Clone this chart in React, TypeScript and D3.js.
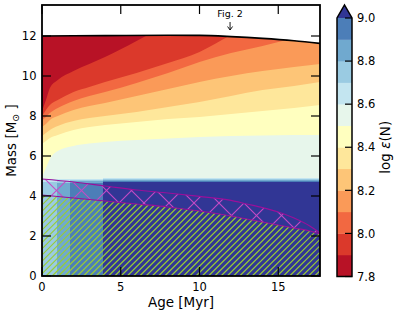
import React, { useRef, useEffect } from 'react';
import * as d3 from 'd3';

// contour levels of log eps(N) and ticks
const LEVELS = [7.8, 7.9, 8.0, 8.1, 8.2, 8.3, 8.4, 8.5, 8.6, 8.7, 8.8, 8.9, 9.0];
const CBAR_TICKS = [7.8, 8.0, 8.2, 8.4, 8.6, 8.8, 9.0];
const X_TICKS = [0, 5, 10, 15];
const Y_TICKS = [0, 2, 4, 6, 8, 10, 12];
const AGE_MAX = 17.65;
const MASS_MAX = 13.55;

// upper (high mass) field: mass where each level is crossed, per age
const AGES = [0, 0.25, 0.5, 1, 2, 3, 4, 6, 8, 10, 12, 14, 16, 17.65];
const BOUNDARY_LEVELS = [7.9, 8.0, 8.1, 8.2, 8.3, 8.4, 8.5];
const MASS_79 = [8.25, 8.8, 9.4, 9.8, 10.25, 10.6, 10.95, 11.75, 12.6, 13.4, 14.0, 14.5, 15.0, 15.3];
const MASS_80 = [8.0, 8.3, 8.55, 8.8, 9.2, 9.45, 9.7, 10.15, 10.65, 11.2, 12.05, 12.8, 13.4, 13.8];
const MASS_81 = [7.8, 7.95, 8.15, 8.4, 8.75, 9.0, 9.2, 9.65, 10.15, 10.7, 11.15, 11.5, 11.9, 12.2];
const MASS_82 = [7.45, 7.6, 7.8, 8.0, 8.3, 8.5, 8.65, 9.0, 9.35, 9.7, 10.0, 10.25, 10.45, 10.6];
const MASS_83 = [7.0, 7.15, 7.3, 7.5, 7.75, 7.9, 8.0, 8.2, 8.45, 8.7, 9.0, 9.3, 9.5, 9.7];
const MASS_84 = [6.6, 6.75, 6.9, 7.05, 7.3, 7.45, 7.55, 7.7, 7.85, 7.95, 8.1, 8.25, 8.4, 8.55];
const MASS_85 = [4.95, 5.4, 5.85, 6.25, 6.5, 6.62, 6.7, 6.8, 6.88, 6.95, 7.0, 7.03, 7.05, 7.05];
const FIELD_FLOOR = 4.9;
const FLOOR_LOGN = 8.55;

// low mass field: value per age bin, ramping up below the floor
const LOW_EDGES = [0, 0.93, 1.78, 3.85, AGE_MAX];
const LOW_LOGN = [8.75, 8.85, 8.95, 9.2];
const RAMP_BOTTOM = 4.63;

// upper limit of the grid
const TOP_AGES = [0, 4, 8, 10, 12, 14, 16, 17.65];
const TOP_MASS = [12.0, 12.02, 12.04, 12.03, 11.97, 11.88, 11.76, 11.63];

// hatched regions
const BAND_AGES = [0, 2, 4, 6, 8, 10, 12, 13, 14, 15, 16, 17, 17.65];
const BAND_UPPER = [4.85, 4.7, 4.5, 4.3, 4.15, 3.98, 3.78, 3.6, 3.42, 3.2, 2.9, 2.5, 2.15];
const BAND_LOWER = [4.05, 3.9, 3.75, 3.6, 3.45, 3.25, 3.0, 2.85, 2.7, 2.55, 2.4, 2.25, 2.1];

const ANNOT_AGE = 11.94;
const ANNOT_TIP = 12.3;
const ANNOT_TAIL = 12.7;

const RDYLBU = ['#a50026', '#d73027', '#f46d43', '#fdae61', '#fee090', '#ffffbf',
    '#e0f3f8', '#abd9e9', '#74add1', '#4575b4', '#313695'];

const FONT = 'DejaVu Sans, sans-serif';

export default function App() {
    const svgRef = useRef<SVGSVGElement | null>(null);

    useEffect(() => {
        const width = 399;
        const height = 315;
        const plot = { left: 42, right: 320, top: 5, bottom: 276 };

        d3.select(svgRef.current).selectAll('*').remove();
        const svg = d3.select(svgRef.current).attr('width', width).attr('height', height);

        const cmap = d3.scaleLinear<string>()
            .domain(d3.range(11).map((i) => i / 10))
            .range(RDYLBU)
            .interpolate(d3.interpolateRgb);
        const nBins = LEVELS.length - 1;
        const binColor = (i: number) => (i >= nBins ? cmap(1) : cmap((i + 0.5) / (nBins + 1)));
        const colorOf = (v: number) => binColor(d3.bisectRight(LEVELS, v) - 1);

        const x = d3.scaleLinear().domain([0, AGE_MAX]).range([plot.left, plot.right]);
        const y = d3.scaleLinear().domain([0, MASS_MAX]).range([plot.bottom, plot.top]);

        const greenArea = d3.area<number>()
            .x((_, i) => x(BAND_AGES[i]))
            .y0(y(0))
            .y1((d) => y(d))
            .curve(d3.curveMonotoneX)(BAND_LOWER)!;
        const bandArea = d3.area<number>()
            .x((_, i) => x(BAND_AGES[i]))
            .y0((_, i) => y(BAND_LOWER[i]))
            .y1((d) => y(d))
            .curve(d3.curveMonotoneX)(BAND_UPPER)!;

        const defs = svg.append('defs');
        defs.append('clipPath').attr('id', 'field')
            .append('path')
            .attr('d', d3.area<number>()
                .x((_, i) => x(TOP_AGES[i]))
                .y0(y(0))
                .y1((d) => y(d))
                .curve(d3.curveMonotoneX)(TOP_MASS)!);
        defs.append('clipPath').attr('id', 'greenClip').append('path').attr('d', greenArea);
        defs.append('clipPath').attr('id', 'bandClip').append('path').attr('d', bandArea);

        // filled contours
        const field = svg.append('g').attr('clip-path', 'url(#field)');
        field.append('rect')
            .attr('x', x(0)).attr('y', y(MASS_MAX))
            .attr('width', x(AGE_MAX) - x(0)).attr('height', y(0) - y(MASS_MAX))
            .attr('fill', binColor(0));

        const boundaries = [MASS_79, MASS_80, MASS_81, MASS_82, MASS_83, MASS_84, MASS_85];
        boundaries.forEach((masses, k) => {
            const idx = LEVELS.indexOf(BOUNDARY_LEVELS[k]);
            field.append('path')
                .attr('d', d3.area<number>()
                    .x((_, i) => x(AGES[i]))
                    .y0(y(0))
                    .y1((d) => y(d))
                    .curve(d3.curveMonotoneX)(masses)!)
                .attr('fill', binColor(idx));
        });

        LOW_LOGN.forEach((v, c) => {
            const x0 = x(LOW_EDGES[c]);
            const x1 = x(LOW_EDGES[c + 1]);
            const ramp = d3.scaleLinear().domain([FLOOR_LOGN, v]).range([FIELD_FLOOR, RAMP_BOTTOM]);
            const steps = [FLOOR_LOGN, ...LEVELS.filter((l) => l > FLOOR_LOGN && l < v)];
            steps.forEach((l) => {
                const top = l === FLOOR_LOGN ? FIELD_FLOOR : ramp(l);
                field.append('rect')
                    .attr('x', x0).attr('width', x1 - x0 + 0.5)
                    .attr('y', y(top)).attr('height', y(0) - y(top))
                    .attr('fill', l === FLOOR_LOGN ? colorOf(FLOOR_LOGN) : binColor(LEVELS.indexOf(l)))
                    .attr('shape-rendering', 'crispEdges');
            });
        });

        // hatching: '/' lines in green below the band, 'x' lines in magenta in the band
        const span = plot.bottom - plot.top;
        const green = svg.append('g').attr('clip-path', 'url(#greenClip)')
            .attr('stroke', '#9acd32').attr('stroke-width', 1.2);
        d3.range(plot.left - span, plot.right + 6, 6.25).forEach((s) => {
            green.append('line')
                .attr('x1', s).attr('y1', plot.bottom)
                .attr('x2', s + span).attr('y2', plot.top);
        });
        const cross = svg.append('g').attr('clip-path', 'url(#bandClip)')
            .attr('stroke', '#c64ac6').attr('stroke-width', 1.1);
        d3.range(plot.left - span, plot.right + 25, 25).forEach((s) => {
            cross.append('line')
                .attr('x1', s).attr('y1', plot.bottom)
                .attr('x2', s + span).attr('y2', plot.top);
            cross.append('line')
                .attr('x1', s + span).attr('y1', plot.bottom)
                .attr('x2', s).attr('y2', plot.top);
        });

        [BAND_UPPER, BAND_LOWER].forEach((masses) => {
            svg.append('path')
                .attr('d', d3.line<number>()
                    .x((_, i) => x(BAND_AGES[i]))
                    .y((d) => y(d))
                    .curve(d3.curveMonotoneX)(masses)!)
                .attr('fill', 'none')
                .attr('stroke', '#9a0f9a')
                .attr('stroke-width', 1.2);
        });

        // top limit line
        svg.append('path')
            .attr('d', d3.line<number>()
                .x((_, i) => x(TOP_AGES[i]))
                .y((d) => y(d))
                .curve(d3.curveMonotoneX)(TOP_MASS)!)
            .attr('fill', 'none')
            .attr('stroke', 'black')
            .attr('stroke-width', 1.6);

        // annotation
        const ax = x(ANNOT_AGE);
        svg.append('text')
            .attr('x', ax).attr('y', y(ANNOT_TAIL) - 5)
            .attr('text-anchor', 'middle')
            .attr('font-family', FONT).attr('font-size', 9.5)
            .text('Fig. 2');
        svg.append('path')
            .attr('d', `M${ax},${y(ANNOT_TAIL)}L${ax},${y(ANNOT_TIP)}M${ax - 2.5},${y(ANNOT_TIP) - 3.5}L${ax},${y(ANNOT_TIP)}L${ax + 2.5},${y(ANNOT_TIP) - 3.5}`)
            .attr('fill', 'none').attr('stroke', 'black').attr('stroke-width', 0.9);

        // ticks
        const tl = 9;
        const ticks = svg.append('g').attr('stroke', 'black').attr('stroke-width', 1.2);
        X_TICKS.forEach((t) => {
            ticks.append('line').attr('x1', x(t)).attr('x2', x(t)).attr('y1', plot.bottom).attr('y2', plot.bottom - tl);
            ticks.append('line').attr('x1', x(t)).attr('x2', x(t)).attr('y1', plot.top).attr('y2', plot.top + tl);
            svg.append('text')
                .attr('x', x(t)).attr('y', 290.5)
                .attr('text-anchor', 'middle')
                .attr('font-family', FONT).attr('font-size', 11.5)
                .text(String(t));
        });
        Y_TICKS.forEach((t) => {
            ticks.append('line').attr('x1', plot.left).attr('x2', plot.left + tl).attr('y1', y(t)).attr('y2', y(t));
            ticks.append('line').attr('x1', plot.right).attr('x2', plot.right - tl).attr('y1', y(t)).attr('y2', y(t));
            svg.append('text')
                .attr('x', 36.5).attr('y', y(t) + 4.2)
                .attr('text-anchor', 'end')
                .attr('font-family', FONT).attr('font-size', 11.5)
                .text(String(t));
        });

        svg.append('rect')
            .attr('x', plot.left).attr('y', plot.top)
            .attr('width', plot.right - plot.left).attr('height', plot.bottom - plot.top)
            .attr('fill', 'none').attr('stroke', 'black').attr('stroke-width', 1.8);

        // axis labels
        svg.append('text')
            .attr('x', (plot.left + plot.right) / 2).attr('y', 306.5)
            .attr('text-anchor', 'middle')
            .attr('font-family', FONT).attr('font-size', 13.5)
            .text('Age [Myr]');

        const ylab = svg.append('text')
            .attr('transform', `translate(16,${(plot.top + plot.bottom) / 2}) rotate(-90)`)
            .attr('text-anchor', 'middle')
            .attr('font-family', FONT).attr('font-size', 13.5);
        ylab.append('tspan').text('Mass [M');
        ylab.append('tspan').attr('font-size', 9.5).attr('dy', 3).text('\u2299');
        ylab.append('tspan').attr('dy', -3).text(' ]');

        // colorbar
        const cb = { left: 337, right: 352 };
        const cy = d3.scaleLinear().domain([LEVELS[0], LEVELS[nBins]]).range([276.5, 18]);
        d3.range(nBins).forEach((i) => {
            svg.append('rect')
                .attr('x', cb.left).attr('width', cb.right - cb.left)
                .attr('y', cy(LEVELS[i + 1])).attr('height', cy(LEVELS[i]) - cy(LEVELS[i + 1]) + 0.3)
                .attr('fill', binColor(i));
        });
        const tip = cy(LEVELS[nBins]) - 13;
        const mid = (cb.left + cb.right) / 2;
        svg.append('path')
            .attr('d', `M${cb.left},${cy(LEVELS[nBins])}L${mid},${tip}L${cb.right},${cy(LEVELS[nBins])}Z`)
            .attr('fill', binColor(nBins));
        CBAR_TICKS.forEach((t) => {
            svg.append('line')
                .attr('x1', cb.right - 7).attr('x2', cb.right)
                .attr('y1', cy(t)).attr('y2', cy(t))
                .attr('stroke', 'black').attr('stroke-width', 1.2);
            svg.append('text')
                .attr('x', 357).attr('y', cy(t) + 4.2)
                .attr('font-family', FONT).attr('font-size', 11.5)
                .text(t.toFixed(1));
        });
        svg.append('path')
            .attr('d', `M${cb.left},${cy(LEVELS[0])}L${cb.left},${cy(LEVELS[nBins])}L${mid},${tip}L${cb.right},${cy(LEVELS[nBins])}L${cb.right},${cy(LEVELS[0])}Z`)
            .attr('fill', 'none').attr('stroke', 'black').attr('stroke-width', 1.5);

        const clab = svg.append('text')
            .attr('transform', `translate(390,${(cy(LEVELS[0]) + cy(LEVELS[nBins])) / 2}) rotate(-90)`)
            .attr('text-anchor', 'middle')
            .attr('font-family', FONT).attr('font-size', 13.5);
        clab.append('tspan').text('log ');
        clab.append('tspan').attr('font-style', 'italic').text('\u03b5');
        clab.append('tspan').text('(N)');
    }, []);

    return <svg ref={svgRef} style={{ position: 'absolute', left: 0, top: 0, display: 'block' }}></svg>;
}
